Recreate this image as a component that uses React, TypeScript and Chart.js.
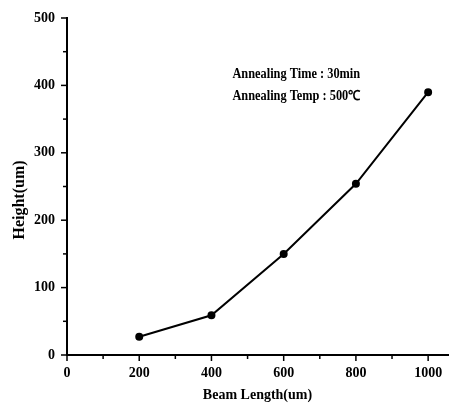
import React, { useEffect, useRef } from "react";
import { Chart, registerables } from "chart.js";

Chart.register(...registerables);

const beamLength = [200, 400, 600, 800, 1000];
const height = [27, 59, 150, 254, 390];
const xMajorTicks = [0, 200, 400, 600, 800, 1000];
const xMinorTicks = [100, 300, 500, 700, 900];
const yMajorTicks = [0, 100, 200, 300, 400, 500];
const yMinorTicks = [50, 150, 250, 350, 450];
const annotationLines = ["Annealing Time : 30min", "Annealing Temp : 500\u2103"];
const annotationX = 458;
const annotationY = [416, 383];
const yTitle = "Height(um)";
const yTitleCenterValue = 230;

const SERIF = "'Liberation Serif', 'Times New Roman', serif";

const tickPlugin = {
  id: "customTicks",
  afterDraw(chart: any) {
    const ctx = chart.ctx;
    const xs = chart.scales.x;
    const ys = chart.scales.y;
    const area = chart.chartArea;
    ctx.save();
    ctx.strokeStyle = "#000";
    ctx.lineWidth = 1.5;
    const drawX = (v: number, len: number) => {
      const px = xs.getPixelForValue(v);
      ctx.beginPath();
      ctx.moveTo(px, area.bottom);
      ctx.lineTo(px, area.bottom + len);
      ctx.stroke();
    };
    const drawY = (v: number, len: number) => {
      const py = ys.getPixelForValue(v);
      ctx.beginPath();
      ctx.moveTo(area.left, py);
      ctx.lineTo(area.left - len, py);
      ctx.stroke();
    };
    xMajorTicks.forEach((v) => drawX(v, 6));
    xMinorTicks.forEach((v) => drawX(v, 4));
    yMajorTicks.forEach((v) => drawY(v, 6));
    yMinorTicks.forEach((v) => drawY(v, 4));

    ctx.fillStyle = "#000";
    ctx.font = `bold 13px ${SERIF}`;
    ctx.textBaseline = "middle";
    ctx.textAlign = "left";
    annotationLines.forEach((t, i) => {
      ctx.save();
      const px = xs.getPixelForValue(annotationX);
      const py = ys.getPixelForValue(annotationY[i]);
      ctx.translate(px, py);
      ctx.scale(0.95, 1.05);
      ctx.fillText(t, 0, 0);
      ctx.restore();
    });

    ctx.save();
    ctx.font = `bold 16px ${SERIF}`;
    ctx.textAlign = "center";
    ctx.textBaseline = "middle";
    ctx.translate(20, ys.getPixelForValue(yTitleCenterValue));
    ctx.rotate(-Math.PI / 2);
    ctx.fillText(yTitle, 0, 0);
    ctx.restore();
    ctx.restore();
  },
};

export default function App() {
  const ref = useRef<HTMLCanvasElement | null>(null);
  useEffect(() => {
    document.body.style.margin = "0";
    const canvas = ref.current;
    if (!canvas) return;
    const chart = new Chart(canvas, {
      type: "scatter",
      data: {
        datasets: [
          {
            data: beamLength.map((x, i) => ({ x, y: height[i] })),
            showLine: true,
            borderColor: "#000",
            backgroundColor: "#000",
            borderWidth: 2,
            pointRadius: 3,
            pointBackgroundColor: "#000",
            pointBorderColor: "#000",
          },
        ],
      },
      options: {
        responsive: false,
        animation: false,
        layout: { padding: { left: 4, top: 18, right: 10, bottom: 0 } },
        plugins: { legend: { display: false }, tooltip: { enabled: false } },
        scales: {
          x: {
            type: "linear",
            min: 0,
            max: 1055,
            afterBuildTicks: (s: any) => {
              s.ticks = xMajorTicks.map((v) => ({ value: v }));
            },
            afterFit: (s: any) => {
              s.height = 55;
            },
            grid: { display: false, tickLength: 8 },
            border: { display: true, color: "#000", width: 2 },
            ticks: {
              color: "#000",
              padding: 2,
              maxRotation: 0,
              callback: (v: any) => String(v),
              font: { family: SERIF, weight: "bold", size: 14 },
            },
            title: {
              display: true,
              text: "Beam Length(um)",
              color: "#000",
              font: { family: SERIF, weight: "bold", size: 14 },
              padding: { top: 0, bottom: 6 },
            },
          },
          y: {
            type: "linear",
            min: 0,
            max: 500,
            afterBuildTicks: (s: any) => {
              s.ticks = yMajorTicks.map((v) => ({ value: v }));
            },
            afterFit: (s: any) => {
              s.width = 63;
            },
            grid: { display: false, tickLength: 7 },
            border: { display: true, color: "#000", width: 2 },
            ticks: {
              color: "#000",
              padding: 5,
              callback: (v: any) => String(v),
              font: { family: SERIF, weight: "bold", size: 14 },
            },
            title: { display: false },
          },
        },
      },
      plugins: [tickPlugin],
    } as any);
    return () => chart.destroy();
  }, []);
  return (
    <div style={{ position: "absolute", left: 0, top: 0, width: 458, height: 410 }}>
      <canvas ref={ref} width={458} height={410} />
    </div>
  );
}
